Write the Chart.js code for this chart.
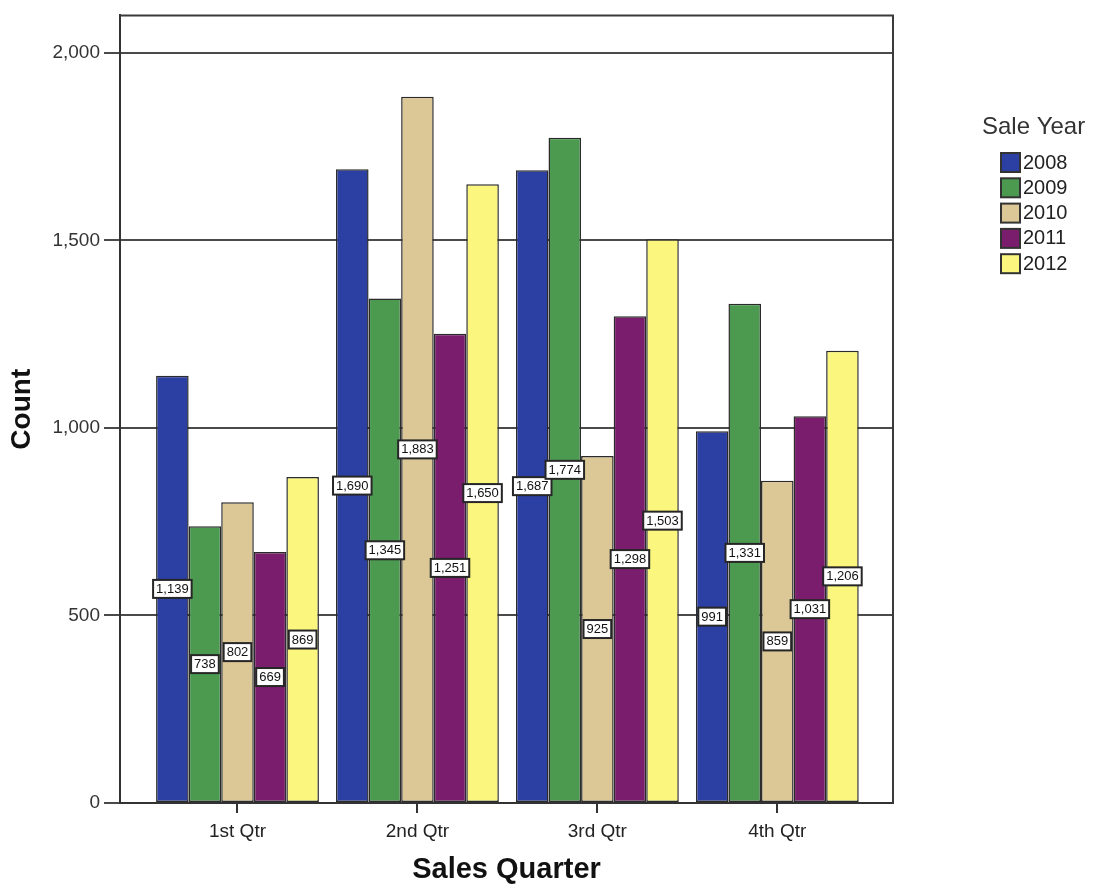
<!DOCTYPE html>
<html>
<head>
<meta charset="utf-8">
<script src="https://cdn.jsdelivr.net/npm/chart.js@4/dist/chart.umd.min.js"></script>
<style>
  html, body { margin: 0; padding: 0; background: #fff; }
  #wrap { width: 1101px; height: 889px; }
</style>
</head>
<body>
<div id="wrap"><canvas id="c"></canvas></div>
<script>
// Sales counts per quarter, one array per sale year
const quarters = ['1st Qtr', '2nd Qtr', '3rd Qtr', '4th Qtr'];
const years = ['2008', '2009', '2010', '2011', '2012'];
const sales2008 = [1139, 1690, 1687, 991];
const sales2009 = [738, 1345, 1774, 1331];
const sales2010 = [802, 1883, 925, 859];
const sales2011 = [669, 1251, 1298, 1031];
const sales2012 = [869, 1650, 1503, 1206];
const yTicks = [0, 500, 1000, 1500, 2000];
const yearColors = ['#2c3fa3', '#4b9a50', '#dcc896', '#7a1d6c', '#fbf77e'];

const FONT = '"Liberation Sans", Arial, sans-serif';
const seriesValues = [sales2008, sales2009, sales2010, sales2011, sales2012];

const datasets = years.map((yr, k) => ({
  label: yr,
  data: seriesValues[k].map((v, i) => ({ x: i, y: v })),
  backgroundColor: yearColors[k],
  borderColor: '#2b2b2b',
  borderWidth: 1.5,
  borderSkipped: false,
  categoryPercentage: 0.905,
  barPercentage: 1.0
}));

// Closes the plot frame on the top and right sides
const frameBox = {
  id: 'frameBox',
  beforeDatasetsDraw(chart) {
    const { ctx, chartArea: a } = chart;
    ctx.save();
    ctx.strokeStyle = '#3a3a3a';
    ctx.lineWidth = 2;
    ctx.beginPath();
    ctx.moveTo(a.left, a.top);
    ctx.lineTo(a.right, a.top);
    ctx.lineTo(a.right, a.bottom);
    ctx.stroke();
    ctx.restore();
  }
};

// Boxed value labels at the middle of every bar
const valueBoxes = {
  id: 'valueBoxes',
  afterDatasetsDraw(chart) {
    const { ctx } = chart;
    ctx.save();
    ctx.font = '13px ' + FONT;
    ctx.textAlign = 'center';
    ctx.textBaseline = 'middle';
    chart.data.datasets.forEach((ds, di) => {
      const meta = chart.getDatasetMeta(di);
      meta.data.forEach((el, i) => {
        const { x, y, base } = el.getProps(['x', 'y', 'base'], true);
        const mid = (y + base) / 2;
        const txt = ds.data[i].y.toLocaleString('en-US');
        const w = ctx.measureText(txt).width + 6;
        const h = 18;
        ctx.fillStyle = '#ffffff';
        ctx.fillRect(x - w / 2, mid - h / 2, w, h);
        ctx.strokeStyle = '#262626';
        ctx.lineWidth = 2;
        ctx.strokeRect(x - w / 2, mid - h / 2, w, h);
        ctx.fillStyle = '#111';
        ctx.fillText(txt, x, mid + 0.5);
      });
    });
    ctx.restore();
  }
};

// Legend block on the right
const yearLegend = {
  id: 'yearLegend',
  afterDraw(chart) {
    const { ctx } = chart;
    ctx.save();
    ctx.textBaseline = 'middle';
    ctx.textAlign = 'left';
    ctx.fillStyle = '#333';
    ctx.font = '24px ' + FONT;
    ctx.fillText('Sale Year', 982, 127);
    ctx.font = '20px ' + FONT;
    chart.data.datasets.forEach((ds, i) => {
      const cy = 162 + i * 25.3;
      ctx.fillStyle = ds.backgroundColor;
      ctx.fillRect(1001, cy - 9, 19, 19);
      ctx.strokeStyle = '#333';
      ctx.lineWidth = 2;
      ctx.strokeRect(1001, cy - 9, 19, 19);
      ctx.fillStyle = '#222';
      ctx.fillText(ds.label, 1023, cy + 1);
    });
    ctx.restore();
  }
};

new Chart(document.getElementById('c'), {
  type: 'bar',
  data: { datasets },
  plugins: [frameBox, valueBoxes, yearLegend],
  options: {
    responsive: true,
    maintainAspectRatio: false,
    animation: false,
    devicePixelRatio: 1,
    layout: { padding: { left: 0, right: 208, top: 0, bottom: 0 } },
    plugins: { legend: { display: false }, tooltip: { enabled: false } },
    scales: {
      x: {
        type: 'linear',
        min: -0.653,
        max: 3.643,
        offset: false,
        afterBuildTicks: s => { s.ticks = quarters.map((q, i) => ({ value: i })); },
        afterFit: s => { s.height = 86; },
        ticks: {
          autoSkip: false,
          maxRotation: 0,
          padding: 7,
          color: '#222',
          font: { family: FONT, size: 19 },
          callback: v => quarters[v]
        },
        grid: { offset: false, drawOnChartArea: false, drawTicks: true, tickLength: 10, color: '#333', lineWidth: 2 },
        border: { display: true, color: '#333', width: 2 },
        title: {
          display: true,
          text: 'Sales Quarter',
          color: '#111',
          font: { family: FONT, size: 29, weight: 'bold' },
          padding: { top: 3, bottom: 2 }
        }
      },
      y: {
        min: 0,
        max: 2100,
        afterBuildTicks: s => { s.ticks = yTicks.map(v => ({ value: v })); },
        afterFit: s => { s.width = 120; },
        ticks: {
          padding: 4,
          color: '#333',
          font: { family: FONT, size: 19 },
          callback: v => v.toLocaleString('en-US')
        },
        grid: { color: '#4a4a4a', lineWidth: 2, tickLength: 16, drawTicks: true },
        border: { display: true, color: '#333', width: 2 },
        title: {
          display: true,
          text: 'Count',
          color: '#111',
          font: { family: FONT, size: 28, weight: 'bold' },
          padding: { top: 5, bottom: 0 }
        }
      }
    }
  }
});
</script>
</body>
</html>
